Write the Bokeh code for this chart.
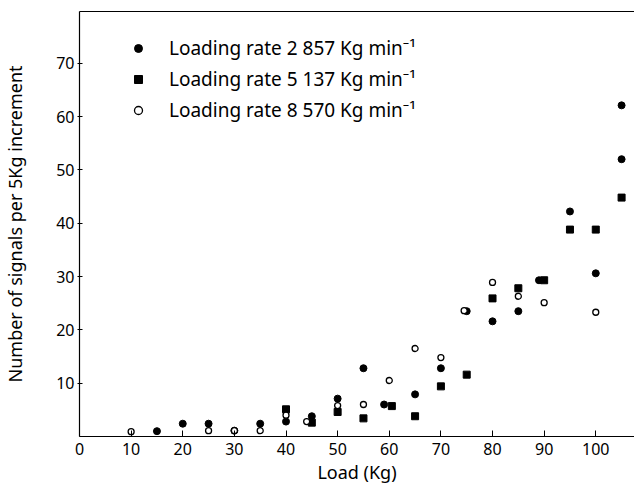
from bokeh.plotting import figure
from bokeh.models import LinearAxis, FixedTicker, Legend, LegendItem, Range1d
from bokeh.embed import file_html
from bokeh.resources import INLINE

# Data
x_2857 = [15, 20, 25, 30, 35, 40, 45, 50, 55, 59, 65, 70, 75, 80, 85, 89, 95, 100, 105, 105]
y_2857 = [1.0, 2.4, 2.4, 1.1, 2.4, 2.8, 3.8, 7.1, 12.8, 6.0, 7.9, 12.8, 23.5, 21.6, 23.5, 29.3, 42.2, 30.6, 62.1, 52.0]

x_5137 = [40, 45, 50, 55, 60.5, 65, 70, 75, 80, 85, 90, 95, 100, 105]
y_5137 = [5.1, 2.6, 4.6, 3.4, 5.7, 3.8, 9.4, 11.6, 25.9, 27.8, 29.3, 38.8, 38.8, 44.8]

x_8570 = [10, 25, 30, 35, 40, 44, 50, 55, 60, 65, 70, 74.5, 80, 85, 90, 100]
y_8570 = [0.9, 1.1, 1.1, 1.1, 4.0, 2.8, 5.8, 6.0, 10.5, 16.5, 14.8, 23.6, 28.9, 26.3, 25.1, 23.3]

x_ticks = [0, 10, 20, 30, 40, 50, 60, 70, 80, 90, 100]
y_ticks = [10, 20, 30, 40, 50, 60, 70]

labels = ["Loading rate 2 857 Kg min\u207b\u00b9",
          "Loading rate 5 137 Kg min\u207b\u00b9",
          "Loading rate 8 570 Kg min\u207b\u00b9"]

FONT = "Noto Sans"

p = figure(width=634, height=486, output_backend="svg", toolbar_location=None,
           x_range=Range1d(0, 107.5), y_range=Range1d(0, 79.7),
           min_border_left=76, min_border_right=0, min_border_top=11, min_border_bottom=0,
           x_axis_label="Load (Kg)", y_axis_label="Number of signals per 5Kg increment")
p.grid.visible = False
p.outline_line_color = None
p.background_fill_color = "white"
p.border_fill_color = "white"

r1 = p.scatter(x_2857, y_2857, marker="circle", size=7, fill_color="black", line_color="black")
r2 = p.scatter(x_5137, y_5137, marker="square", size=7, fill_color="black", line_color="black")
r3 = p.scatter(x_8570, y_8570, marker="circle", size=6, fill_color="white", line_color="black", line_width=1.3)

for ax in [p.xaxis[0], p.yaxis[0]]:
    ax.axis_line_color = "black"
    ax.axis_line_width = 1.2
    ax.minor_tick_line_color = None
    ax.major_tick_line_color = "black"
    ax.major_label_text_font = FONT
    ax.major_label_text_font_size = "16px"
    ax.major_label_text_color = "black"
    ax.axis_label_text_font = FONT
    ax.axis_label_text_font_size = "18px"
    ax.axis_label_text_font_style = "normal"
    ax.axis_label_text_color = "black"

p.xaxis[0].ticker = FixedTicker(ticks=x_ticks)
p.xaxis[0].major_tick_in = 6
p.xaxis[0].major_tick_out = 0
p.xaxis[0].major_label_standoff = 6
p.xaxis[0].axis_label_standoff = 2

p.yaxis[0].ticker = FixedTicker(ticks=y_ticks)
p.yaxis[0].major_tick_in = 3
p.yaxis[0].major_tick_out = 2
p.yaxis[0].major_label_standoff = 3
p.yaxis[0].axis_label_standoff = 26

top = LinearAxis(ticker=FixedTicker(ticks=[]), major_tick_line_color=None, minor_tick_line_color=None,
                 major_label_text_font_size="0px", major_label_standoff=0,
                 major_tick_out=0, major_tick_in=0, axis_line_color="black", axis_line_width=1.0)
p.add_layout(top, "above")

legend = Legend(items=[LegendItem(label=labels[0], renderers=[r1]),
                       LegendItem(label=labels[1], renderers=[r2]),
                       LegendItem(label=labels[2], renderers=[r3])],
                location=(49, 313), padding=0, margin=0, spacing=5,
                glyph_width=20, glyph_height=20, label_height=20, label_standoff=21,
                label_text_font=FONT, label_text_font_size="19px", label_text_color="black",
                border_line_color=None, background_fill_alpha=0)
p.add_layout(legend, "center")

open("out.html", "w").write(file_html(p, INLINE))
